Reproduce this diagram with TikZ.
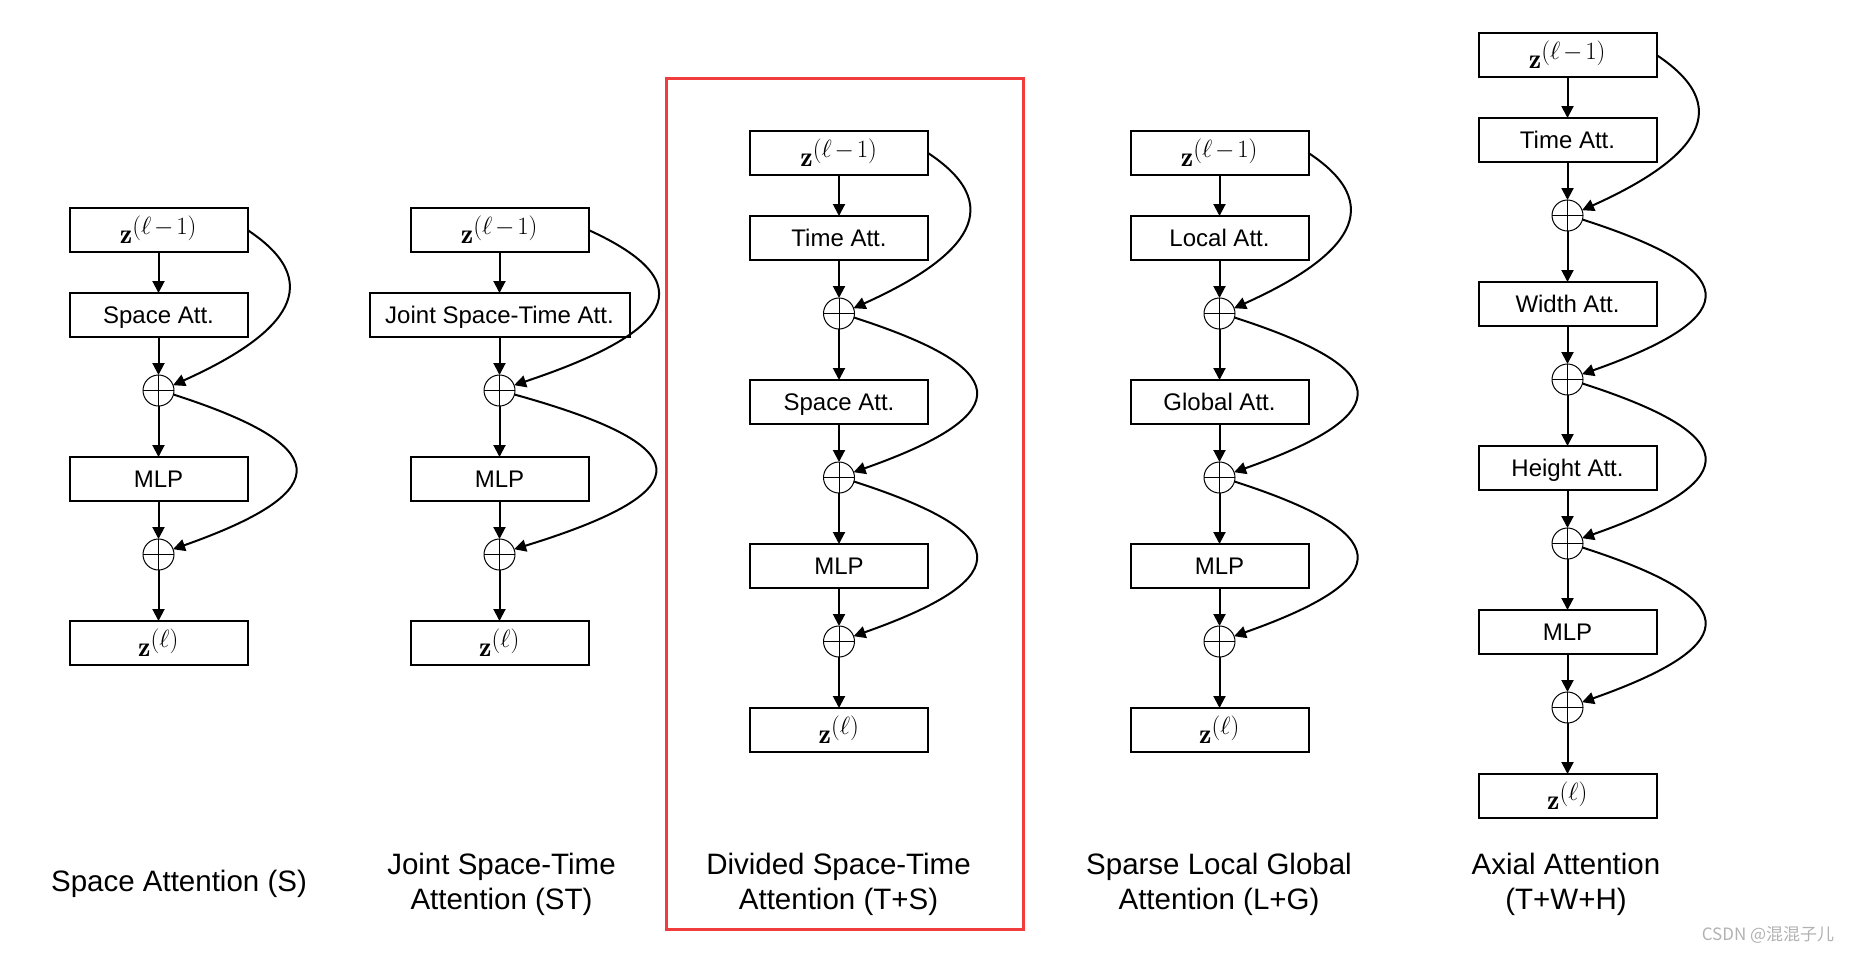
\documentclass[tikz,border=0pt]{standalone}
\usepackage{fontspec}
\newfontfamily\arialf{Liberation Sans}
\newfontfamily\cjkf{Noto Sans CJK SC}
\usetikzlibrary{positioning,arrows.meta}
\definecolor{framered}{RGB}{240,60,60}
\definecolor{markgray}{RGB}{178,178,178}
\newcommand{\zsup}[1]{\mathbf{z}^{\mbox{\fontsize{23}{26}\selectfont$#1$}}}

\begin{document}
\begin{tikzpicture}[x=1pt, y=1pt, node distance=41pt and 0pt,
    blk/.style={draw, line width=2pt, minimum width=178pt, minimum height=44pt, inner sep=0pt, outer sep=0pt},
    attblk/.style={blk, font=\arialf\fontsize{24}{28}\selectfont, text height=17.2pt, text depth=0pt},
    zblk/.style={blk, font=\fontsize{28}{32}\selectfont},
    addop/.style={circle, draw, line width=1pt, minimum size=31pt, inner sep=0pt, outer sep=0pt,
        path picture={\draw[line width=1pt] (path picture bounding box.north) -- (path picture bounding box.south)
            (path picture bounding box.west) -- (path picture bounding box.east);}},
    flow/.style={-{Triangle[length=12pt,width=12pt]}, line width=2pt},
    captxt/.style={align=center, font=\arialf\fontsize{29.5}{35}\selectfont},
    redbox/.style={draw=framered, line width=3pt}]

            \useasboundingbox (0,0) rectangle (1849,-954);

            % Space attention (S)
            \node (Sin) [zblk] at (158.5,-230) {$\zsup{(\ell\mkern2mu{-}\mkern2mu1)}$};
            \node (Sspace) [attblk, below=of Sin] {Space Att.};
            \node (Splus1) [addop, below=38pt of Sspace] {};
            \node (Smlp) [attblk, below=51pt of Splus1] {MLP};
            \node (Splus2) [addop, below=38pt of Smlp] {};
            \node (Sout) [zblk, below=51pt of Splus2] {$\zsup{(\ell)}$};

            % Joint space-time attention (ST)
            \node (STin) [zblk] at (499.5,-230) {$\zsup{(\ell\mkern2mu{-}\mkern2mu1)}$};
            \node (STjoint) [attblk, minimum width=260pt, below=of STin] {Joint Space-Time Att.};
            \node (STplus1) [addop, below=38pt of STjoint] {};
            \node (STmlp) [attblk, below=51pt of STplus1] {MLP};
            \node (STplus2) [addop, below=38pt of STmlp] {};
            \node (STout) [zblk, below=51pt of STplus2] {$\zsup{(\ell)}$};

            % Divided space-time attention (T+S)
            \node (TSin) [zblk] at (839,-153) {$\zsup{(\ell\mkern2mu{-}\mkern2mu1)}$};
            \node (TStime) [attblk, below=of TSin] {Time Att.};
            \node (TSplus1) [addop, below=38pt of TStime] {};
            \node (TSspace) [attblk, below=51pt of TSplus1] {Space Att.};
            \node (TSplus2) [addop, below=38pt of TSspace] {};
            \node (TSmlp) [attblk, below=51pt of TSplus2] {MLP};
            \node (TSplus3) [addop, below=38pt of TSmlp] {};
            \node (TSout) [zblk, below=51pt of TSplus3] {$\zsup{(\ell)}$};

            % Sparse local global attention (L+G)
            \node (LGin) [zblk] at (1219.5,-153) {$\zsup{(\ell\mkern2mu{-}\mkern2mu1)}$};
            \node (LGlocal) [attblk, below=of LGin] {Local Att.};
            \node (LGplus1) [addop, below=38pt of LGlocal] {};
            \node (LGglobal) [attblk, below=51pt of LGplus1] {Global Att.};
            \node (LGplus2) [addop, below=38pt of LGglobal] {};
            \node (LGmlp) [attblk, below=51pt of LGplus2] {MLP};
            \node (LGplus3) [addop, below=38pt of LGmlp] {};
            \node (LGout) [zblk, below=51pt of LGplus3] {$\zsup{(\ell)}$};

            % Axial attention (T+W+H)
            \node (Axin) [zblk] at (1567.5,-55) {$\zsup{(\ell\mkern2mu{-}\mkern2mu1)}$};
            \node (Axtime) [attblk, below=of Axin] {Time Att.};
            \node (Axplus1) [addop, below=38pt of Axtime] {};
            \node (Axwidth) [attblk, below=51pt of Axplus1] {Width Att.};
            \node (Axplus2) [addop, below=38pt of Axwidth] {};
            \node (Axheight) [attblk, below=51pt of Axplus2] {Height Att.};
            \node (Axplus3) [addop, below=38pt of Axheight] {};
            \node (Axmlp) [attblk, below=51pt of Axplus3] {MLP};
            \node (Axplus4) [addop, below=38pt of Axmlp] {};
            \node (Axout) [zblk, below=51pt of Axplus4] {$\zsup{(\ell)}$};

            % Main path arrows
            \draw[flow] (Sin) -- (Sspace);
            \draw[flow] (Sspace) -- (Splus1);
            \draw[flow] (Splus1) -- (Smlp);
            \draw[flow] (Smlp) -- (Splus2);
            \draw[flow] (Splus2) -- (Sout);

            \draw[flow] (STin) -- (STjoint);
            \draw[flow] (STjoint) -- (STplus1);
            \draw[flow] (STplus1) -- (STmlp);
            \draw[flow] (STmlp) -- (STplus2);
            \draw[flow] (STplus2) -- (STout);

            \draw[flow] (TSin) -- (TStime);
            \draw[flow] (TStime) -- (TSplus1);
            \draw[flow] (TSplus1) -- (TSspace);
            \draw[flow] (TSspace) -- (TSplus2);
            \draw[flow] (TSplus2) -- (TSmlp);
            \draw[flow] (TSmlp) -- (TSplus3);
            \draw[flow] (TSplus3) -- (TSout);

            \draw[flow] (LGin) -- (LGlocal);
            \draw[flow] (LGlocal) -- (LGplus1);
            \draw[flow] (LGplus1) -- (LGglobal);
            \draw[flow] (LGglobal) -- (LGplus2);
            \draw[flow] (LGplus2) -- (LGmlp);
            \draw[flow] (LGmlp) -- (LGplus3);
            \draw[flow] (LGplus3) -- (LGout);

            \draw[flow] (Axin) -- (Axtime);
            \draw[flow] (Axtime) -- (Axplus1);
            \draw[flow] (Axplus1) -- (Axwidth);
            \draw[flow] (Axwidth) -- (Axplus2);
            \draw[flow] (Axplus2) -- (Axheight);
            \draw[flow] (Axheight) -- (Axplus3);
            \draw[flow] (Axplus3) -- (Axmlp);
            \draw[flow] (Axmlp) -- (Axplus4);
            \draw[flow] (Axplus4) -- (Axout);

            % Skip connections
            \draw[flow] (Sin.east) .. controls +(88,-58) and +(100,45) .. (Splus1.20);
            \draw[flow] (Splus1.-15) .. controls +(155,-50) and +(170,60) .. (Splus2.20);

            \draw[flow] (STin.east) .. controls +(132,-60) and +(135,45) .. (STplus1.20);
            \draw[flow] (STplus1.-15) .. controls +(180,-50) and +(195,60) .. (STplus2.20);

            \draw[flow] (TSin.east) .. controls +(88,-58) and +(100,45) .. (TSplus1.20);
            \draw[flow] (TSplus1.-15) .. controls +(155,-50) and +(170,60) .. (TSplus2.20);
            \draw[flow] (TSplus2.-15) .. controls +(155,-50) and +(170,60) .. (TSplus3.20);

            \draw[flow] (LGin.east) .. controls +(88,-58) and +(100,45) .. (LGplus1.20);
            \draw[flow] (LGplus1.-15) .. controls +(155,-50) and +(170,60) .. (LGplus2.20);
            \draw[flow] (LGplus2.-15) .. controls +(155,-50) and +(170,60) .. (LGplus3.20);

            \draw[flow] (Axin.east) .. controls +(88,-58) and +(100,45) .. (Axplus1.20);
            \draw[flow] (Axplus1.-15) .. controls +(155,-50) and +(170,60) .. (Axplus2.20);
            \draw[flow] (Axplus2.-15) .. controls +(155,-50) and +(170,60) .. (Axplus3.20);
            \draw[flow] (Axplus3.-15) .. controls +(155,-50) and +(170,60) .. (Axplus4.20);

            % Captions
            \node (capS) [captxt] at (179,-883.5) {Space Attention (S)};
            \node (capST) [captxt] at (501.5,-884) {Joint Space-Time\\Attention (ST)};
            \node (capTS) [captxt] at (838.5,-884) {Divided Space-Time\\Attention (T+S)};
            \node (capLG) [captxt] at (1219,-884) {Sparse Local Global\\Attention (L+G)};
            \node (capAx) [captxt] at (1566,-884) {Axial Attention\\(T+W+H)};

            % Highlight frame and watermark
            \draw[redbox] (666,-78) rectangle (1023,-929);
            \node (mark) [font=\cjkf\fontsize{17}{20}\selectfont, text=markgray] at (1768,-935) {CSDN @混混子儿};

\end{tikzpicture}
\end{document}
